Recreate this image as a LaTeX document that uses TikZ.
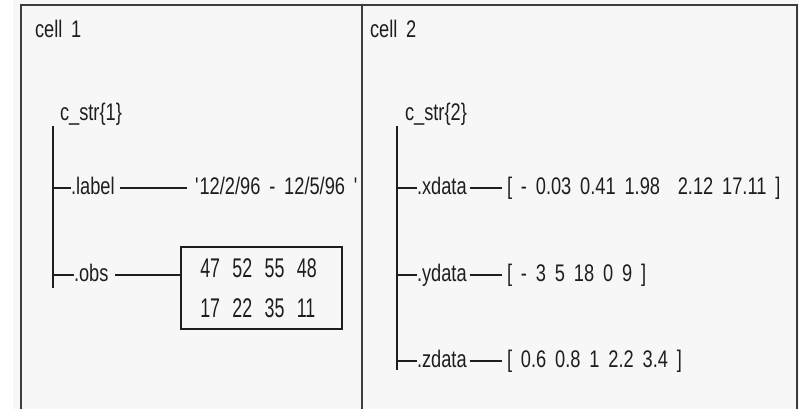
\documentclass[tikz,border=0pt]{standalone}
\usepackage{fontspec}
\setmainfont{Liberation Sans}[FakeStretch=0.76,WordSpace=1.75]
\newfontfamily\boxfont{Liberation Sans}[FakeStretch=0.66,WordSpace=2.5]
\definecolor{panel}{HTML}{F7F7F7}
\definecolor{ink}{HTML}{1E1E1E}
\definecolor{frame}{HTML}{3C3C3C}
\begin{document}
\begin{tikzpicture}[x=1pt,y=-1pt,inner sep=0pt,outer sep=0pt,line width=1.3pt,ink,
font=\fontsize{24}{27}\selectfont,
item/.style={anchor=west,text height=17pt,text depth=5pt},
databox/.style={draw,line width=1.8pt,minimum width=161pt,minimum height=82pt,align=left,font=\boxfont\fontsize{27}{40}\selectfont}]

\useasboundingbox (0,0) rectangle (799,409);
\fill[panel] (13,0) rectangle (799,409);
\draw[frame,line width=2pt] (21,409) -- (21,5) -- (797,5) -- (797,409);
\draw[frame,line width=2pt] (362,5) -- (362,409);

\draw (35,32) node[item] (cellA) {cell 1};
\draw (370,32) node[item] (cellB) {cell 2};

\draw (60,114) node[item] (strA) {c\_str\{1\}};
\draw (71,188) node[item] (labelA) {.label};
\draw (195,188) node[item] (labelV) {\textquotesingle12/2/96 - 12/5/96 \textquotesingle};
\draw (74,275) node[item] (obsA) {.obs};
\draw (261.5,288) node[databox] (obsV) {47 52 55 48\hspace*{6pt}\\17 22 35 11\hspace*{6pt}};
\coordinate (topA) at (53,126);
\coordinate (botA) at (53,288);
\draw (topA) -- (botA);
\draw (topA |- labelA.west) -- (labelA.west);
\draw (topA |- obsA.west) -- (obsA.west);
\draw[shorten <=5pt,shorten >=8pt] (labelA.east) -- (labelV.west);
\draw[shorten <=7pt] (obsA.east) -- (obsA.east -| obsV.west);

\draw (405,114) node[item] (strB) {c\_str\{2\}};
\draw (417,188) node[item] (xd) {.xdata};
\draw (507,188) node[item] (xv) {[ - 0.03 0.41 1.98 \ 2.12 17.11 ]};
\draw (417,275) node[item] (yd) {.ydata};
\draw (507,275) node[item] (yv) {[ - 3 5 18 0 9 ]};
\draw (417,361) node[item] (zd) {.zdata};
\draw (507,361) node[item] (zv) {[ 0.6 0.8 1 2.2 3.4 ]};
\coordinate (topB) at (397,126);
\coordinate (botB) at (397,370);
\draw (topB) -- (botB);
\foreach \n in {xd,yd,zd}
  \draw (topB |- \n.west) -- (\n.west);
\foreach \n/\v in {xd/xv,yd/yv,zd/zv}
  \draw[shorten <=3pt,shorten >=5pt] (\n.east) -- (\v.west);
\end{tikzpicture}
\end{document}
